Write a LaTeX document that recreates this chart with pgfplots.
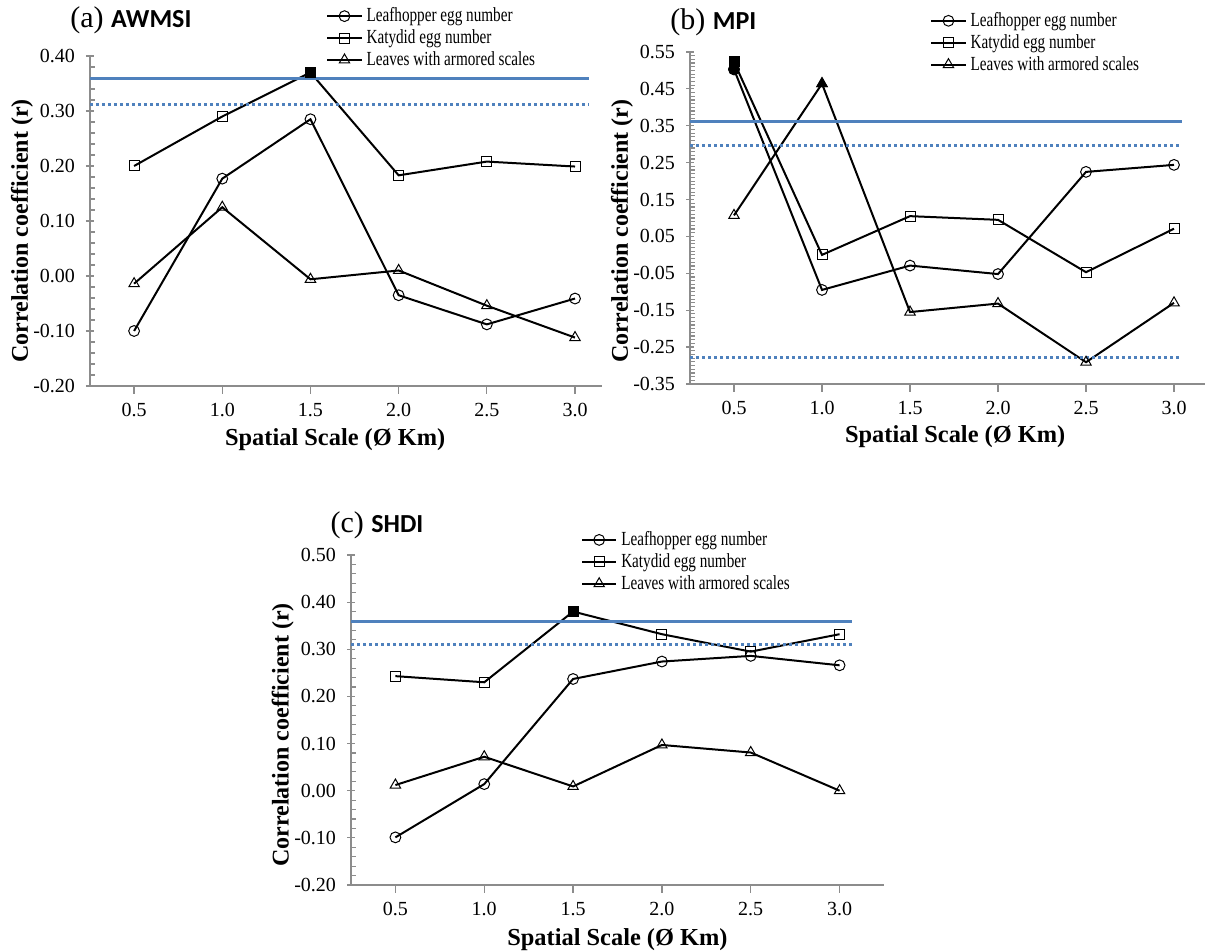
\documentclass[border=0pt]{standalone}
\usepackage{fontspec}
\setmainfont{Liberation Serif}
\newfontfamily\condserif{Liberation Serif}[FakeStretch=0.76]
\newfontfamily\titlesans{Carlito}
\usepackage{pgfplots}
\pgfplotsset{compat=1.18}
\definecolor{axgray}{HTML}{8C8C8C}
\definecolor{refblue}{HTML}{4F81BD}
\pgfplotsset{
 panel/.style={
   scale only axis, clip=false, anchor=south west,
   axis x line=bottom, axis y line=left,
   axis line style={draw=axgray, line width=0.8pt, -},
   tick align=center,
   major tick length=4pt, minor tick length=2.5pt,
   every tick/.append style={axgray, line width=0.6pt},
   minor y tick style={xshift=1.25pt},
   xtick={0.5,1,1.5,2,2.5,3},
   xtick style={yshift=-2pt},
   /pgf/number format/assume math mode=true,
   ticklabel style={font=\fontsize{10}{11}\selectfont},
   xticklabel style={yshift=-3pt, /pgf/number format/.cd, fixed, fixed zerofill, precision=1},
   yticklabel style={xshift=-2pt, /pgf/number format/.cd, fixed, fixed zerofill, precision=2},
   legend cell align=left,
   legend style={draw=none, fill=none, inner sep=0pt, font=\condserif\fontsize{10}{11}\selectfont, anchor=north west, row sep=-1.5pt},
   every axis x label/.style={anchor=center, font=\fontsize{12.2}{14}\selectfont\bfseries},
   every axis y label/.style={anchor=center, rotate=90, font=\fontsize{12}{14}\selectfont\bfseries},
   xlabel={Spatial Scale (Ø Km)},
   ylabel={Correlation coefficient (r)},
 },
 ser/.style={black, line width=1pt, mark options={solid, fill=white, line width=0.5pt}},
 filled/.style={forget plot, only marks, black, mark options={solid, fill=black, line width=0.5pt}},
 solidref/.style={forget plot, no marks, refblue, line width=1.5pt},
 dotref/.style={forget plot, no marks, refblue, line width=1.5pt, dash pattern=on 1.5pt off 1.5pt},
}
\begin{document}
\begin{tikzpicture}
\path[use as bounding box] (0,0) rectangle (603.5pt,475.5pt);
% ---------------- (a) AWMSI ----------------
\begin{axis}[panel, at={(45pt,282.5pt)}, width=256pt, height=165pt,
  xmin=0.25, xmax=3.153, ymin=-0.2, ymax=0.4,
  ytick={-0.2,-0.1,0,0.1,0.2,0.3,0.4}, minor y tick num=4,
  xlabel style={at={(axis description cs:0.479,-0.164)}},
  ylabel style={at={(axis description cs:-0.133,0.47)}},
  legend style={at={(0.461,1.16)}}]
\addplot[ser, mark=o, mark size=2.7pt] coordinates {(0.5,-0.100) (1.0,0.177) (1.5,0.285) (2.0,-0.035) (2.5,-0.088) (3.0,-0.041)};
\addplot[ser, mark=square, mark size=2.5pt] coordinates {(0.5,0.200) (1.0,0.290) (1.5,0.370) (2.0,0.183) (2.5,0.208) (3.0,0.199)};
\addplot[ser, mark=triangle, mark size=3pt] coordinates {(0.5,-0.014) (1.0,0.125) (1.5,-0.006) (2.0,0.010) (2.5,-0.054) (3.0,-0.112)};
\addplot[filled, mark=square*, mark size=2.5pt] coordinates {(1.5,0.370)};
\addplot[solidref] coordinates {(0.25,0.359) (3.08,0.359)};
\addplot[dotref] coordinates {(0.25,0.311) (3.08,0.311)};
\legend{Leafhopper egg number, Katydid egg number, Leaves with armored scales}
\node[anchor=west, inner sep=0pt] at (axis description cs:-0.039,1.109) {\fontsize{15}{15}\selectfont (a) {\titlesans\bfseries\fontsize{13}{13}\selectfont AWMSI}};
\end{axis}
% ---------------- (b) MPI ----------------
\begin{axis}[panel, at={(345pt,283.5pt)}, width=257.5pt, height=166pt,
  xmin=0.25, xmax=3.176, ymin=-0.35, ymax=0.55,
  ytick={-0.35,-0.25,-0.15,-0.05,0.05,0.15,0.25,0.35,0.45,0.55}, minor y tick num=9,
  xlabel style={at={(axis description cs:0.515,-0.16)}},
  ylabel style={at={(axis description cs:-0.132,0.46)}},
  legend style={at={(0.466,1.133)}}]
\addplot[ser, mark=o, mark size=2.7pt] coordinates {(0.5,0.503) (1.0,-0.095) (1.5,-0.029) (2.0,-0.052) (2.5,0.225) (3.0,0.244)};
\addplot[ser, mark=square, mark size=2.5pt] coordinates {(0.5,0.523) (1.0,0.000) (1.5,0.105) (2.0,0.095) (2.5,-0.047) (3.0,0.071)};
\addplot[ser, mark=triangle, mark size=3pt] coordinates {(0.5,0.107) (1.0,0.464) (1.5,-0.155) (2.0,-0.132) (2.5,-0.291) (3.0,-0.130)};
\addplot[filled, mark=square*, mark size=2.5pt] coordinates {(0.5,0.523)};
\addplot[filled, mark=*, mark size=2.7pt] coordinates {(0.5,0.503)};
\addplot[filled, mark=triangle*, mark size=3pt] coordinates {(1.0,0.464)};
\addplot[solidref] coordinates {(0.25,0.362) (3.045,0.362)};
\addplot[dotref] coordinates {(0.25,0.297) (3.045,0.297)};
\addplot[dotref] coordinates {(0.25,-0.277) (3.045,-0.277)};
\legend{Leafhopper egg number, Katydid egg number, Leaves with armored scales}
\node[anchor=west, inner sep=0pt] at (axis description cs:-0.039,1.09) {\fontsize{15}{15}\selectfont (b) {\titlesans\bfseries\fontsize{13}{13}\selectfont MPI}};
\end{axis}
% ---------------- (c) SHDI ----------------
\begin{axis}[panel, at={(175.5pt,33pt)}, width=266.5pt, height=165pt,
  xmin=0.25, xmax=3.25, ymin=-0.2, ymax=0.5,
  ytick={-0.2,-0.1,0,0.1,0.2,0.3,0.4,0.5}, minor y tick num=4,
  xlabel style={at={(axis description cs:0.5,-0.167)}},
  ylabel style={at={(axis description cs:-0.128,0.455)}},
  legend style={at={(0.431,1.085)}}]
\addplot[ser, mark=o, mark size=2.7pt] coordinates {(0.5,-0.099) (1.0,0.014) (1.5,0.237) (2.0,0.274) (2.5,0.286) (3.0,0.266)};
\addplot[ser, mark=square, mark size=2.5pt] coordinates {(0.5,0.243) (1.0,0.230) (1.5,0.380) (2.0,0.332) (2.5,0.295) (3.0,0.332)};
\addplot[ser, mark=triangle, mark size=3pt] coordinates {(0.5,0.012) (1.0,0.072) (1.5,0.009) (2.0,0.097) (2.5,0.081) (3.0,0.000)};
\addplot[filled, mark=square*, mark size=2.5pt] coordinates {(1.5,0.380)};
\addplot[solidref] coordinates {(0.25,0.358) (3.07,0.358)};
\addplot[dotref] coordinates {(0.25,0.311) (3.07,0.311)};
\legend{Leafhopper egg number, Katydid egg number, Leaves with armored scales}
\node[anchor=west, inner sep=0pt] at (axis description cs:-0.039,1.09) {\fontsize{15}{15}\selectfont (c) {\titlesans\bfseries\fontsize{13}{13}\selectfont SHDI}};
\end{axis}
\end{tikzpicture}
\end{document}
